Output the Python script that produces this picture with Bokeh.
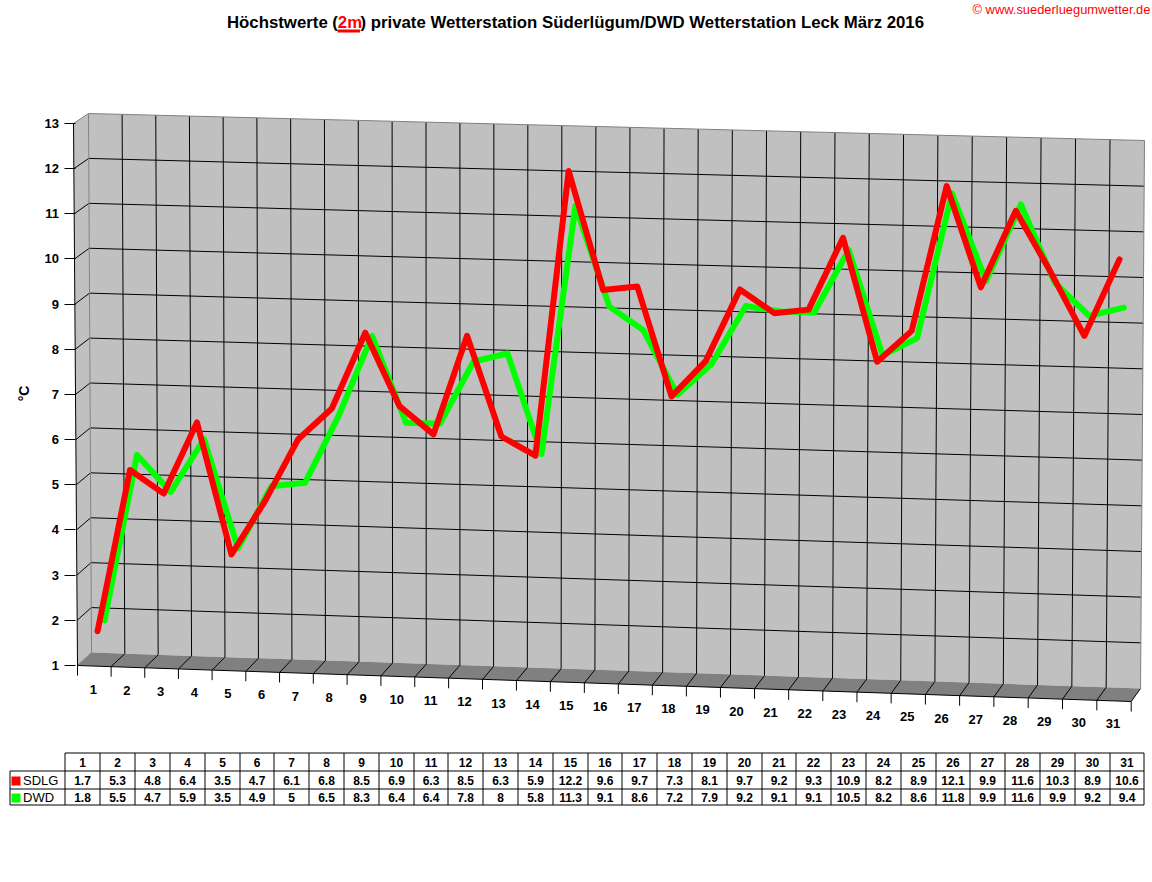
from math import pi
from bokeh.plotting import figure
from bokeh.models import Range1d, FixedTicker
from bokeh.core.properties import value
from bokeh.embed import file_html
from bokeh.resources import INLINE

days = list(range(1, 32))
sdlg = [1.7, 5.3, 4.8, 6.4, 3.5, 4.7, 6.1, 6.8, 8.5, 6.9, 6.3, 8.5, 6.3, 5.9, 12.2, 9.6,
        9.7, 7.3, 8.1, 9.7, 9.2, 9.3, 10.9, 8.2, 8.9, 12.1, 9.9, 11.6, 10.3, 8.9, 10.6]
dwd = [1.8, 5.5, 4.7, 5.9, 3.5, 4.9, 5, 6.5, 8.3, 6.4, 6.4, 7.8, 8, 5.8, 11.3, 9.1,
       8.6, 7.2, 7.9, 9.2, 9.1, 9.1, 10.5, 8.2, 8.6, 11.8, 9.9, 11.6, 9.9, 9.2, 9.4]
y_ticks = list(range(1, 14))
title_parts = ["Höchstwerte (", "2m", ") private Wetterstation Süderlügum/DWD Wetterstation Leck März 2016"]
watermark = "© www.suederluegumwetter.de"
series_names = ["SDLG", "DWD"]
FONT = value("Liberation Sans")
WALL, FLOOR, EDGE = "#c0c0c0", "#808080", "#808080"


# 3D projection of (day position u 0..31, value v 1..13, depth d 0..1) to page pixels
def front(u, v):
    t = (v - 1) / 12
    xb = 77 + 33.6 * u + 0.0126 * u * u
    xt = 73 + 33.6 * u + 0.0212 * u * u
    yb = 665 + 36 * u / 31
    yt = 123 + 30 * u / 31
    return xb + (xt - xb) * t, yb + (yt - yb) * t


def back(u, v):
    t = (v - 1) / 12
    xb = 91 + 33.3 * u + 0.0174 * u * u
    xt = 88 + 33.6 * u + 0.015 * u * u
    yb = 652 + 36 * u / 31
    yt = 113 + 27 * u / 31
    return xb + (xt - xb) * t, yb + (yt - yb) * t


def dx(px):
    return (px - 77) / 34


def dy(py):
    return 1 + (665 - py) / 45.17


def pt(xy):
    return dx(xy[0]), dy(xy[1])


def proj(u, v, d):
    fx, fy = front(u, v)
    bx, by = back(u, v)
    return pt((fx + (bx - fx) * d, fy + (by - fy) * d))


def seg(points):
    return [p_[0] for p_ in points], [p_[1] for p_ in points]


p = figure(width=1152, height=882, output_backend="svg", toolbar_location=None,
           x_range=Range1d(dx(0), dx(1152)), y_range=Range1d(dy(882), dy(0)),
           x_axis_location=None, min_border_left=0, min_border_right=0,
           min_border_top=0, min_border_bottom=0)
p.outline_line_color = None
p.grid.visible = False
ax = p.yaxis[0]
ax.fixed_location = dx(73.5)
ax.ticker = FixedTicker(ticks=y_ticks)
ax.axis_line_color = None
ax.major_tick_line_color = "black"
ax.major_tick_out = 10
ax.major_tick_in = 1
ax.minor_tick_line_color = None
ax.major_label_text_font = "Liberation Sans"
ax.major_label_text_font_style = "bold"
ax.major_label_text_font_size = "13px"
ax.major_label_text_color = "black"
ax.major_label_standoff = 5

# walls and floor
n = len(days)
xs, ys = seg([pt(back(0, 1)), pt(back(0, 13)), pt(back(n, 13)), pt(back(n, 1))])
p.patch(xs, ys, fill_color=WALL, line_color=None)
xs, ys = seg([pt(front(0, 1)), pt(front(0, 13)), pt(back(0, 13)), pt(back(0, 1))])
p.patch(xs, ys, fill_color=WALL, line_color=None)
xs, ys = seg([pt(front(0, 1)), pt(front(n, 1)), pt(back(n, 1)), pt(back(0, 1))])
p.patch(xs, ys, fill_color=FLOOR, line_color=None)

# grid: horizontal back-wall lines with their left-wall returns
gx, gy = [], []
for v in y_ticks[1:-1]:
    a, b = seg([pt(front(0, v)), pt(back(0, v)), pt(back(n, v))])
    gx.append(a)
    gy.append(b)
# vertical back-wall lines with their floor returns
for u in range(1, n):
    a, b = seg([pt(front(u, 1)), pt(back(u, 1)), pt(back(u, 13))])
    gx.append(a)
    gy.append(b)
a, b = seg([pt(front(n, 1)), pt(back(n, 1))])
gx.append(a)
gy.append(b)
p.multi_line(gx, gy, line_color="black", line_width=1)

# gray edges
a, b = seg([pt(front(0, 13)), pt(back(0, 13)), pt(back(n, 13)), pt(back(n, 1))])
p.line(a, b, line_color=EDGE, line_width=1)
a, b = seg([pt(back(0, 13)), pt(back(0, 1)), pt(front(0, 1))])
p.line(a, b, line_color=EDGE, line_width=1)

# front axis lines and day ticks
a, b = seg([pt(front(0, 13)), pt(front(0, 1)), pt(front(n, 1))])
p.line(a, b, line_color="black", line_width=1)
tx, ty = [], []
for u in range(n + 1):
    x0, y0 = front(u, 1)
    a, b = seg([pt((x0, y0)), pt((x0, y0 + 10))])
    tx.append(a)
    ty.append(b)
p.multi_line(tx, ty, line_color="black", line_width=1)

# day labels
lx, ly = [], []
for d in days:
    x0, y0 = front(d - 0.5, 1)
    lx.append(dx(x0 - 1))
    ly.append(dy(y0 + 23))
p.text(lx, ly, text=[str(d) for d in days], text_font=FONT, text_font_style="bold",
       text_font_size=value("13px"), text_align="center", text_baseline="middle", text_color="black")

# data: each series sits in its own depth slot
for series, colour, depth in ((dwd, "#00ff00", 0.75), (sdlg, "#ff0000", 0.25)):
    pts = [proj(d - 0.5, val, depth) for d, val in zip(days, series)]
    a, b = seg(pts)
    p.line(a, b, line_color=colour, line_width=6, line_join="round", line_cap="round")

# title
tsize = value("16.8px")
for txt, x0, colour in zip(title_parts, (226.5, 337.3, 360), ("black", "#ff0000", "black")):
    p.text([dx(x0)], [dy(22)], text=[txt], text_font=FONT, text_font_style="bold",
           text_font_size=tsize, text_color=colour, text_baseline="middle", text_align="left")
a, b = seg([pt((337, 30.5)), pt((359.5, 30.5))])
p.line(a, b, line_color="#ff0000", line_width=3)
p.text([dx(972)], [dy(9)], text=[watermark], text_font=FONT, text_font_size=value("12.9px"),
       text_color="#ff0000", text_baseline="middle", text_align="left")
p.text([dx(23)], [dy(393)], text=["°C"], angle=pi / 2, text_align="center",
       text_baseline="middle", text_font=FONT, text_font_style="bold",
       text_font_size=value("14px"), text_color="black")

# data table
X0, XL, XR = 64.5, 9.5, 1143.5
ROWS = [752.5, 770.5, 788.5, 804.5]
CW = (XR - X0) / n
hx = [seg([pt((X0, ROWS[0])), pt((XR, ROWS[0]))])[0]] + [seg([pt((XL, r)), pt((XR, r))])[0] for r in ROWS[1:]]
hy = [[dy(r), dy(r)] for r in ROWS]
p.multi_line(hx, hy, line_color="black", line_width=1)
col_x = [round(X0 + CW * i) + 0.5 for i in range(n)] + [XR]
col_x[0] = X0
vx = [[dx(c), dx(c)] for c in col_x] + [[dx(XL), dx(XL)]]
vy = [[dy(ROWS[0]), dy(ROWS[3])] for _ in col_x] + [[dy(ROWS[1]), dy(ROWS[3])]]
p.multi_line(vx, vy, line_color="black", line_width=1)
centres = [dx((col_x[i] + col_x[i + 1]) / 2) for i in range(n)]
cell = dict(text_font=FONT, text_font_style="bold", text_font_size=value("12px"),
            text_align="center", text_baseline="middle", text_color="black")
p.text(centres, [dy(761.5)] * n, text=[str(d) for d in days], **cell)
p.text(centres, [dy(780)] * n, text=[str(v_) for v_ in sdlg], **cell)
p.text(centres, [dy(797)] * n, text=[str(v_) for v_ in dwd], **cell)
p.quad(left=[dx(11), dx(11)], right=[dx(20), dx(20)], top=[dy(776), dy(793)], bottom=[dy(785), dy(802)],
       fill_color=["#ff0000", "#00ff00"], line_color=None)
p.text([dx(22.5), dx(22.5)], [dy(780), dy(797)], text=series_names, text_font=FONT, text_font_size=value("13px"),
       text_baseline="middle", text_align="left", text_color="black")

open("out.html", "w").write(file_html(p, INLINE))
